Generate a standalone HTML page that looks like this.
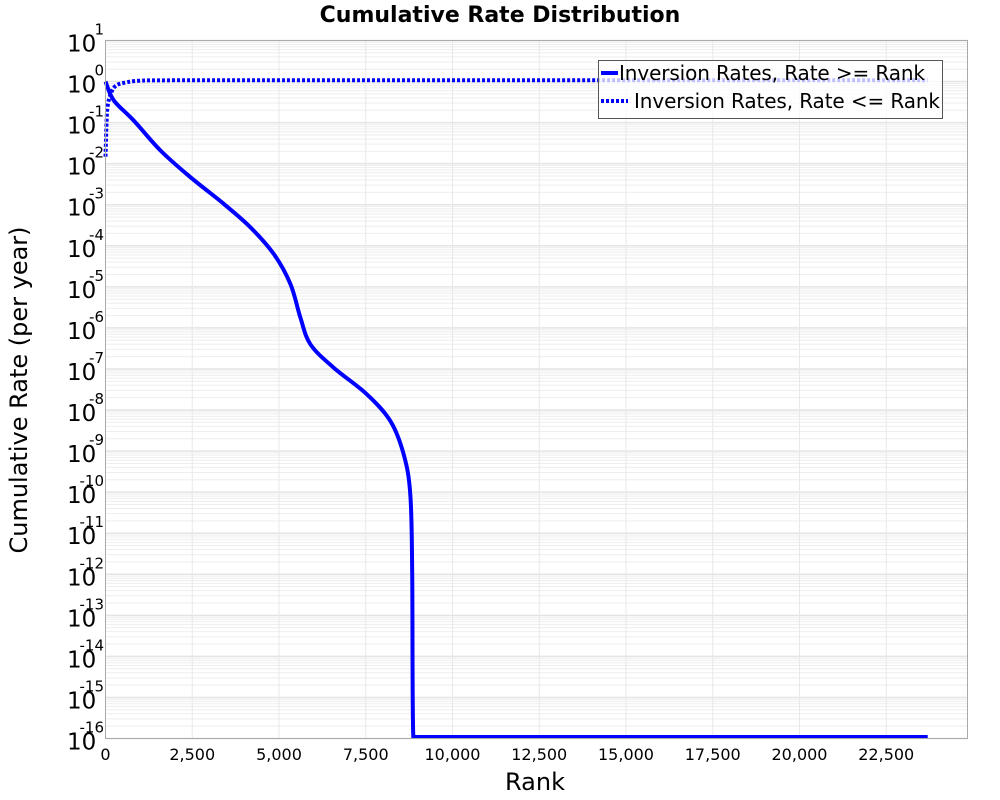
<!DOCTYPE html>
<html><head><meta charset="utf-8"><style>
body{margin:0;background:#fff;}
svg{display:block;font-family:"DejaVu Sans","Liberation Sans",sans-serif;}
</style></head><body>
<svg id="chart" width="1000" height="800">
<text x="500" y="22" text-anchor="middle" font-size="22" font-weight="bold">Cumulative Rate Distribution</text>
<g id="grid"></g>
<g id="yticks"></g>
<g id="xticks"></g>
<g id="series"></g>
<rect x="105.5" y="40.5" width="862" height="698" fill="none" stroke="#aaa"/>
<text x="535" y="790" text-anchor="middle" font-size="24">Rank</text>
<text transform="translate(27,390) rotate(-90)" text-anchor="middle" font-size="24">Cumulative Rate (per year)</text>
<g>
<rect x="598.5" y="60.5" width="344" height="58" fill="#fff" fill-opacity="0.75" stroke="#555"/>
<line x1="601" y1="73" x2="618" y2="73" stroke="#00f" stroke-width="4"/>
<text x="619" y="80" font-size="20" textLength="306">Inversion Rates, Rate &gt;= Rank</text>
<line x1="601" y1="101" x2="628" y2="101" stroke="#00f" stroke-width="4" stroke-dasharray="3,2"/>
<text x="634" y="108" font-size="20" textLength="306">Inversion Rates, Rate &lt;= Rank</text>
</g>
</svg>
<script>
const xTicks=[0,2500,5000,7500,10000,12500,15000,17500,20000,22500];
const xTickLabels=["0","2,500","5,000","7,500","10,000","12,500","15,000","17,500","20,000","22,500"];
const yDecades=[1,0,-1,-2,-3,-4,-5,-6,-7,-8,-9,-10,-11,-12,-13,-14,-15,-16];
const geRank=[0,240,815,1584,2448,3408,4177,4849,5329,5617,5905,6577,7537,8209,8593,8785,8840,8870,23695];
const geLog=[0,-0.46,-0.95,-1.68,-2.33,-2.98,-3.55,-4.2,-4.93,-5.75,-6.4,-6.97,-7.62,-8.27,-9.08,-10.06,-12,-16,-16];
const leRank=[0,30,60,150,300,600,1000,2000,23695];
const leLog=[-1.83,-1.0,-0.6,-0.3,-0.1,-0.02,0.02,0.03,0.03];
const NS="http://www.w3.org/2000/svg";
const X0=105.5,XS=86.75/2500,YTOP=40.5,YS=698/17;
const xs=v=>X0+v*XS;
const ys=l=>YTOP+(1-l)*YS;
function mk(tag,attrs,parent){const e=document.createElementNS(NS,tag);for(const k in attrs)e.setAttribute(k,attrs[k]);parent.appendChild(e);return e;}
const grid=document.getElementById('grid'),yt=document.getElementById('yticks'),xt=document.getElementById('xticks'),ser=document.getElementById('series');
for(let d=-16;d<1;d++){for(let m=2;m<10;m++){const y=ys(d+Math.log10(m));
const l=mk('line',{x1:105,x2:968,y1:y,y2:y,stroke:'#eee','stroke-width':1},grid);

}}
yDecades.forEach(d=>{const y=ys(d);
const l=mk('line',{x1:105,x2:968,y1:y,y2:y,stroke:'#e4e4e4','stroke-width':1.5},grid);


const t=mk('text',{x:67,y:y+11,'font-size':23},yt);t.textContent='10';


const s=mk('text',{x:104,y:y-6,'font-size':15,'text-anchor':'end'},yt);s.textContent=String(d);

});
xTicks.forEach((v,i)=>{const x=xs(v);
const l=mk('line',{x1:x,x2:x,y1:40,y2:738,stroke:'#e8e8e8','stroke-width':1},grid);


const t=mk('text',{x:x,y:760,'font-size':16,'text-anchor':'middle'},xt);t.textContent=xTickLabels[i];

});
function path(r,l){
  const p=r.map((v,i)=>[xs(v),Math.min(ys(l[i]),737)]);
  let d='M'+p[0][0].toFixed(1)+','+p[0][1].toFixed(1);
  for(let i=0;i<p.length-1;i++){
    const p0=p[Math.max(i-1,0)],p1=p[i],p2=p[i+1],p3=p[Math.min(i+2,p.length-1)];
    let c1x=p1[0]+(p2[0]-p0[0])/6,c1y=p1[1]+(p2[1]-p0[1])/6;
    let c2x=p2[0]-(p3[0]-p1[0])/6,c2y=p2[1]-(p3[1]-p1[1])/6;
    c1x=Math.min(Math.max(c1x,p1[0]),p2[0]);c2x=Math.min(Math.max(c2x,p1[0]),p2[0]);
    c1y=Math.min(c1y,737);c2y=Math.min(c2y,737);
    d+=' C'+c1x.toFixed(1)+','+c1y.toFixed(1)+' '+c2x.toFixed(1)+','+c2y.toFixed(1)+' '+p2[0].toFixed(1)+','+p2[1].toFixed(1);
  }
  return d;}
const p1=mk('path',{d:path(geRank,geLog),fill:'none',stroke:'#00f','stroke-width':4,'stroke-linejoin':'round'},ser);


const p2=mk('path',{d:path(leRank,leLog),fill:'none',stroke:'#00f','stroke-width':4,'stroke-dasharray':'3,2'},ser);


</script>
</body></html>
